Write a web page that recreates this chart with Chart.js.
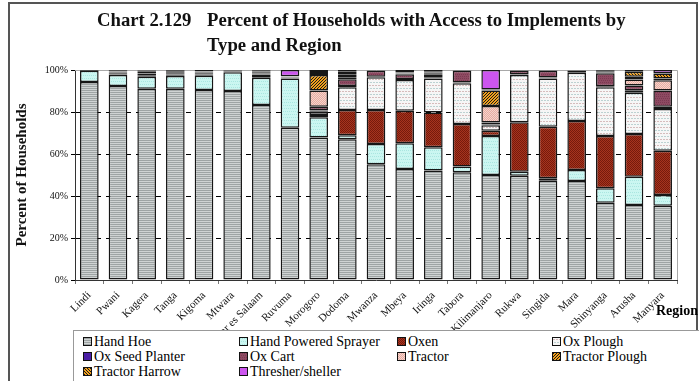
<!DOCTYPE html>
<html>
<head>
<meta charset="utf-8">
<script src="https://cdn.jsdelivr.net/npm/chart.js@4.4.0/dist/chart.umd.min.js"></script>
<style>
  html, body { margin: 0; padding: 0; background: #fff; }
  #wrap { position: relative; width: 699px; height: 381px; overflow: hidden; font-family: "Liberation Serif", "DejaVu Serif", serif; }
  #chart { position: absolute; left: 0; top: 0; }
  .frame { position: absolute; background: #555; }
  .title { position: absolute; font-weight: bold; font-size: 18.7px; line-height: 25px; color: #111; white-space: nowrap; }
  #legendBox { position: absolute; left: 73px; top: 330px; width: 640px; height: 70px; border: 1px solid #999; background: #fff; }
  .lg { position: absolute; font-size: 14px; line-height: 15px; color: #000; white-space: nowrap; }
  .lg i { position: absolute; left: -11px; top: 3px; width: 7px; height: 7px; border: 1px solid #111; background-size: 6px 6px; }
  #regionLbl { position: absolute; left: 656px; top: 303px; font-weight: bold; font-size: 14px; }
</style>
</head>
<body>
<div id="wrap">
  <canvas id="chart" width="699" height="381"></canvas>
  <div class="frame" style="left:8px;top:2px;width:2px;height:379px"></div>
  <div class="frame" style="left:8px;top:2px;width:690px;height:2px"></div>
  <div class="frame" style="left:696px;top:2px;width:2px;height:328px"></div>
  <div class="title" style="left:97px;top:7px">Chart 2.129</div>
  <div class="title" style="left:207px;top:7px">Percent of Households with Access to Implements by<br>Type and Region</div>
  <div id="legendBox"></div>
  <div id="regionLbl">Region</div>
</div>
<script>
const regions = ['Lindi', 'Pwani', 'Kagera', 'Tanga', 'Kigoma', 'Mtwara', 'Dar es Salaam', 'Ruvuma', 'Morogoro', 'Dodoma', 'Mwanza',
  'Mbeya', 'Iringa', 'Tabora', 'Kilimanjaro', 'Rukwa', 'Singida', 'Mara', 'Shinyanga', 'Arusha', 'Manyara'];

const handHoe       = [94.3, 92.4, 91.1, 91.1, 90.5, 90.0, 83.3, 72.5, 67.9, 67.0, 55.1, 52.9, 52.2, 51.3, 50.0, 49.7, 47.3, 47.1, 36.8, 35.7, 35.4];
const sprayer       = [5.4, 5.2, 5.7, 6.0, 6.8, 8.9, 13.0, 23.5, 9.6, 1.9, 9.7, 12.2, 11.0, 2.7, 18.6, 1.9, 1.1, 5.3, 6.9, 13.5, 5.1];
const oxen          = [0, 0.3, 0.5, 0.4, 0.3, 0.2, 0.4, 0.2, 1.1, 12.0, 16.2, 15.5, 16.6, 20.3, 2.5, 23.5, 24.6, 23.3, 24.9, 20.3, 21.1];
const oxPlough      = [0, 0.3, 1.0, 0.3, 0.3, 0.2, 0.5, 0.2, 1.5, 10.9, 15.5, 14.6, 16.2, 19.4, 2.6, 22.5, 23.0, 23.0, 23.2, 19.7, 19.8];
const oxSeedPlanter = [0, 0.6, 0.3, 0.6, 0.5, 0.2, 0.6, 0.1, 0.6, 0.6, 0.3, 0.5, 0.6, 0.4, 0.4, 0.3, 0.4, 0.3, 0.5, 1.1, 1.1];
const oxCart        = [0, 0.4, 0.6, 0.5, 0.4, 0.2, 0.5, 0.2, 1.8, 3.2, 2.8, 2.3, 1.4, 5.5, 0.9, 1.8, 3.3, 0.5, 6.1, 2.3, 7.7];
const tractor       = [0, 0, 0.3, 0.2, 0.2, 0, 0.6, 0.1, 7.7, 1.0, 0.1, 0.3, 0.4, 0.1, 7.9, 0.1, 0.1, 0.2, 0.4, 2.9, 4.9];
const tractorPlough = [0, 0.2, 0.2, 0.3, 0.2, 0.1, 0.4, 0.1, 7.4, 1.4, 0.1, 0.2, 0.4, 0.1, 7.3, 0.1, 0.1, 0.1, 0.4, 1.3, 0.8];
const tractorHarrow = [0, 0.2, 0.1, 0.3, 0.1, 0, 0.3, 0.1, 1.5, 1.2, 0.1, 0.3, 0.4, 0.1, 0.5, 0, 0, 0.1, 0.4, 2.4, 2.4];
const thresher      = [0.3, 0.4, 0.2, 0.3, 0.7, 0.2, 0.4, 3.0, 0.9, 0.8, 0.1, 1.2, 0.8, 0.1, 9.3, 0.1, 0.1, 0.1, 0.4, 0.8, 1.7];

const yTickLabels = ['0%', '20%', '40%', '60%', '80%', '100%'];

// little fill textures, like the printed chart
function tex(draw) {
  const c = document.createElement('canvas');
  c.width = 6; c.height = 6;
  draw(c.getContext('2d'));
  return c;
}
function dots(g, base, dot, step) {
  g.fillStyle = base; g.fillRect(0, 0, 6, 6);
  g.fillStyle = dot;
  for (let y = 0; y < 6; y += step) for (let x = (y / step) % 2; x < 6; x += 2) g.fillRect(x, y, 1, 1);
}
const textures = {
  hoe: tex(g => { g.fillStyle = '#cfd3d3'; g.fillRect(0, 0, 6, 6); g.fillStyle = '#9ea4a4'; for (let y = 0; y < 6; y += 2) g.fillRect(0, y, 6, 1); }),
  spray: tex(g => dots(g, '#cbf6f1', '#a9e6e0', 3)),
  oxen: tex(g => dots(g, '#a7341e', '#761a0c', 1)),
  plough: tex(g => { g.fillStyle = '#f6f6f6'; g.fillRect(0, 0, 6, 6); g.fillStyle = '#d6bcbc'; g.fillRect(0, 1, 2, 1); g.fillRect(3, 1, 2, 1); g.fillStyle = '#bcd2d2'; g.fillRect(1, 4, 2, 1); g.fillRect(4, 4, 2, 1); }),
  seed: tex(g => { g.fillStyle = '#4b1ea6'; g.fillRect(0, 0, 6, 6); }),
  cart: tex(g => dots(g, '#8e4a62', '#7a3a52', 2)),
  tractor: tex(g => dots(g, '#e6aca2', '#f6d4cc', 1)),
  tplough: tex(g => { g.fillStyle = '#f2a01c'; g.fillRect(0, 0, 6, 6); g.fillStyle = '#1a1a1a'; for (let i = 0; i < 6; i++) { g.fillRect((6 - i) % 6, i, 1, 1); g.fillRect((9 - i) % 6, i, 1, 1); } }),
  tharrow: tex(g => { g.fillStyle = '#f2a01c'; g.fillRect(0, 0, 6, 6); g.fillStyle = '#1a1a1a'; for (let i = 0; i < 6; i++) { g.fillRect(i, i, 1, 1); g.fillRect((i + 3) % 6, i, 1, 1); } }),
  thresh: tex(g => { g.fillStyle = '#cc55ee'; g.fillRect(0, 0, 6, 6); })
};
const pat = c => document.createElement('canvas').getContext('2d').createPattern(c, 'repeat');

const series = [
  ['Hand Hoe', handHoe, 'hoe'],
  ['Hand Powered Sprayer', sprayer, 'spray'],
  ['Oxen', oxen, 'oxen'],
  ['Ox Plough', oxPlough, 'plough'],
  ['Ox Seed Planter', oxSeedPlanter, 'seed'],
  ['Ox Cart', oxCart, 'cart'],
  ['Tractor', tractor, 'tractor'],
  ['Tractor Plough', tractorPlough, 'tplough'],
  ['Tractor Harrow', tractorHarrow, 'tharrow'],
  ['Thresher/sheller', thresher, 'thresh']
];

const plotFrame = {
  id: 'plotFrame',
  beforeDatasetsDraw(chart) {
    const { ctx, chartArea: a } = chart;
    ctx.save();
    ctx.strokeStyle = '#a8a8a8';
    ctx.lineWidth = 1;
    ctx.beginPath();
    ctx.moveTo(a.left, a.top + 0.5);
    ctx.lineTo(a.right + 0.5, a.top + 0.5);
    ctx.lineTo(a.right + 0.5, a.bottom);
    ctx.stroke();
    ctx.restore();
  }
};

const chart = new Chart(document.getElementById('chart'), {
  type: 'bar',
  data: {
    labels: regions,
    datasets: series.map(([label, data, key]) => ({
      label,
      data,
      backgroundColor: pat(textures[key]),
      borderColor: '#161616',
      borderWidth: 1.5,
      borderSkipped: false,
      barPercentage: 0.65,
      categoryPercentage: 1
    }))
  },
  options: {
    responsive: false,
    animation: false,
    layout: { padding: { left: 0, top: 70, right: 22, bottom: 51 } },
    plugins: { legend: { display: false }, tooltip: { enabled: false } },
    scales: {
      x: {
        stacked: true,
        grid: { drawOnChartArea: false, tickLength: 4, color: '#777' },
        border: { color: '#333', width: 1 },
        ticks: { autoSkip: false, minRotation: 45, maxRotation: 45, padding: 5, color: '#111', font: { family: 'Liberation Serif', size: 11 } },
        afterFit: s => { s.height = 50; }
      },
      y: {
        stacked: true,
        min: 0,
        max: 100,
        ticks: { stepSize: 20, padding: 3, color: '#111', font: { family: 'Liberation Serif', size: 10 }, callback: (v, i) => yTickLabels[i] },
        grid: { color: c => (c.tick.value === 0 || c.tick.value === 100) ? 'rgba(0,0,0,0)' : '#000', tickLength: 4, tickColor: '#000' },
        border: { color: '#333', width: 1, dash: [5, 5] },
        title: { display: true, text: 'Percent of Households', color: '#111', padding: { top: 13, bottom: 0 }, font: { family: 'Liberation Serif', size: 15, weight: 'bold' } },
        afterFit: s => { s.width = 75; }
      }
    }
  },
  plugins: [plotFrame]
});

// legend drawn as HTML in four aligned columns, like the source
const legendCols = [94, 250, 408, 563];
const legendRows = [334, 349, 364];
const wrap = document.getElementById('wrap');
chart.data.datasets.forEach((ds, i) => {
  const el = document.createElement('div');
  el.className = 'lg';
  el.style.left = legendCols[i % 4] + 'px';
  el.style.top = legendRows[Math.floor(i / 4)] + 'px';
  const sw = document.createElement('i');
  sw.style.backgroundImage = 'url(' + textures[series[i][2]].toDataURL() + ')';
  el.appendChild(sw);
  el.appendChild(document.createTextNode(ds.label));
  wrap.appendChild(el);
});
</script>
</body>
</html>
